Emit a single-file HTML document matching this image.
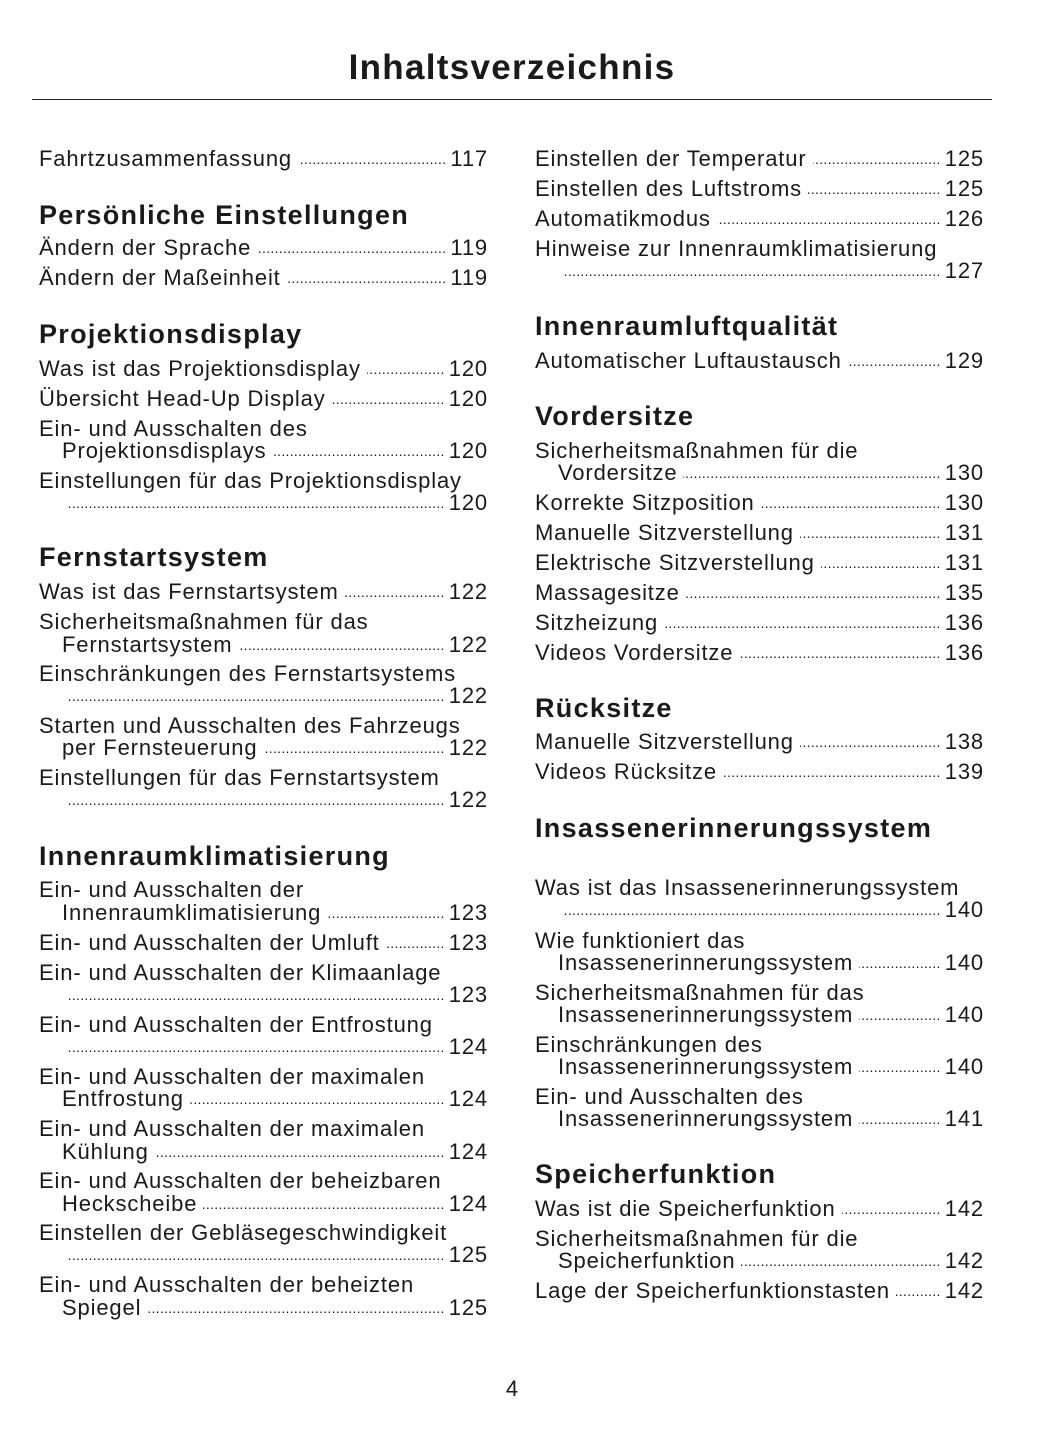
<!DOCTYPE html>
<html><head><meta charset="utf-8"><style>
html,body{margin:0;padding:0;background:#fff}
body{width:1055px;height:1448px;position:relative;overflow:hidden;font-family:"Liberation Sans",sans-serif;color:#1a1a1a}
.title{position:absolute;top:45px;left:0;width:1024px;text-align:center;font-weight:900;font-size:35px;letter-spacing:1.3px;line-height:46px}
.rule{position:absolute;top:99px;left:32px;width:960px;height:1px;background:#222}
.l{position:absolute;height:26px;line-height:26px;font-size:22px;letter-spacing:0.85px;display:flex;white-space:nowrap;width:449px}
.L{left:39px}.R{left:535px}
.i{padding-left:23px;box-sizing:border-box}
.d{flex:1;overflow:hidden;font-size:14px;letter-spacing:0.3px;margin:0 4px 0 6px;direction:rtl;text-align:left}
.h{position:absolute;font-weight:900;font-size:27px;letter-spacing:1.3px;line-height:30px;white-space:nowrap}
.pn{position:absolute;top:1376px;left:0;width:1024px;text-align:center;font-size:22px}
</style></head><body>
<div class="title">Inhaltsverzeichnis</div>
<div class="rule"></div>
<!-- left column -->
<div class="l L" style="top:146px"><span>Fahrtzusammenfassung</span><span class="d">................................................................................................................</span><span>117</span></div>
<div class="h" style="left:39px;top:200px">Persönliche Einstellungen</div>
<div class="l L" style="top:235px"><span>Ändern der Sprache</span><span class="d">................................................................................................................</span><span>119</span></div>
<div class="l L" style="top:265px"><span>Ändern der Maßeinheit</span><span class="d">................................................................................................................</span><span>119</span></div>
<div class="h" style="left:39px;top:319px">Projektionsdisplay</div>
<div class="l L" style="top:356px"><span>Was ist das Projektionsdisplay</span><span class="d">................................................................................................................</span><span>120</span></div>
<div class="l L" style="top:386px"><span>Übersicht Head-Up Display</span><span class="d">................................................................................................................</span><span>120</span></div>
<div class="l L" style="top:416px"><span>Ein- und Ausschalten des</span></div>
<div class="l L i" style="top:438px"><span>Projektionsdisplays</span><span class="d">................................................................................................................</span><span>120</span></div>
<div class="l L" style="top:468px"><span>Einstellungen für das Projektionsdisplay</span></div>
<div class="l L i" style="top:490px"><span></span><span class="d">................................................................................................................</span><span>120</span></div>
<div class="h" style="left:39px;top:542px">Fernstartsystem</div>
<div class="l L" style="top:579px"><span>Was ist das Fernstartsystem</span><span class="d">................................................................................................................</span><span>122</span></div>
<div class="l L" style="top:609px"><span>Sicherheitsmaßnahmen für das</span></div>
<div class="l L i" style="top:632px"><span>Fernstartsystem</span><span class="d">................................................................................................................</span><span>122</span></div>
<div class="l L" style="top:661px"><span>Einschränkungen des Fernstartsystems</span></div>
<div class="l L i" style="top:683px"><span></span><span class="d">................................................................................................................</span><span>122</span></div>
<div class="l L" style="top:713px"><span>Starten und Ausschalten des Fahrzeugs</span></div>
<div class="l L i" style="top:735px"><span>per Fernsteuerung</span><span class="d">................................................................................................................</span><span>122</span></div>
<div class="l L" style="top:765px"><span>Einstellungen für das Fernstartsystem</span></div>
<div class="l L i" style="top:787px"><span></span><span class="d">................................................................................................................</span><span>122</span></div>
<div class="h" style="left:39px;top:841px">Innenraumklimatisierung</div>
<div class="l L" style="top:877px"><span>Ein- und Ausschalten der</span></div>
<div class="l L i" style="top:900px"><span>Innenraumklimatisierung</span><span class="d">................................................................................................................</span><span>123</span></div>
<div class="l L" style="top:930px"><span>Ein- und Ausschalten der Umluft</span><span class="d">................................................................................................................</span><span>123</span></div>
<div class="l L" style="top:960px"><span>Ein- und Ausschalten der Klimaanlage</span></div>
<div class="l L i" style="top:982px"><span></span><span class="d">................................................................................................................</span><span>123</span></div>
<div class="l L" style="top:1012px"><span>Ein- und Ausschalten der Entfrostung</span></div>
<div class="l L i" style="top:1034px"><span></span><span class="d">................................................................................................................</span><span>124</span></div>
<div class="l L" style="top:1064px"><span>Ein- und Ausschalten der maximalen</span></div>
<div class="l L i" style="top:1086px"><span>Entfrostung</span><span class="d">................................................................................................................</span><span>124</span></div>
<div class="l L" style="top:1116px"><span>Ein- und Ausschalten der maximalen</span></div>
<div class="l L i" style="top:1139px"><span>Kühlung</span><span class="d">................................................................................................................</span><span>124</span></div>
<div class="l L" style="top:1168px"><span>Ein- und Ausschalten der beheizbaren</span></div>
<div class="l L i" style="top:1191px"><span>Heckscheibe</span><span class="d">................................................................................................................</span><span>124</span></div>
<div class="l L" style="top:1220px"><span>Einstellen der Gebläsegeschwindigkeit</span></div>
<div class="l L i" style="top:1242px"><span></span><span class="d">................................................................................................................</span><span>125</span></div>
<div class="l L" style="top:1272px"><span>Ein- und Ausschalten der beheizten</span></div>
<div class="l L i" style="top:1295px"><span>Spiegel</span><span class="d">................................................................................................................</span><span>125</span></div>
<!-- right column -->
<div class="l R" style="top:146px"><span>Einstellen der Temperatur</span><span class="d">................................................................................................................</span><span>125</span></div>
<div class="l R" style="top:176px"><span>Einstellen des Luftstroms</span><span class="d">................................................................................................................</span><span>125</span></div>
<div class="l R" style="top:206px"><span>Automatikmodus</span><span class="d">................................................................................................................</span><span>126</span></div>
<div class="l R" style="top:236px"><span>Hinweise zur Innenraumklimatisierung</span></div>
<div class="l R i" style="top:258px"><span></span><span class="d">................................................................................................................</span><span>127</span></div>
<div class="h" style="left:535px;top:311px">Innenraumluftqualität</div>
<div class="l R" style="top:348px"><span>Automatischer Luftaustausch</span><span class="d">................................................................................................................</span><span>129</span></div>
<div class="h" style="left:535px;top:401px">Vordersitze</div>
<div class="l R" style="top:438px"><span>Sicherheitsmaßnahmen für die</span></div>
<div class="l R i" style="top:460px"><span>Vordersitze</span><span class="d">................................................................................................................</span><span>130</span></div>
<div class="l R" style="top:490px"><span>Korrekte Sitzposition</span><span class="d">................................................................................................................</span><span>130</span></div>
<div class="l R" style="top:520px"><span>Manuelle Sitzverstellung</span><span class="d">................................................................................................................</span><span>131</span></div>
<div class="l R" style="top:550px"><span>Elektrische Sitzverstellung</span><span class="d">................................................................................................................</span><span>131</span></div>
<div class="l R" style="top:580px"><span>Massagesitze</span><span class="d">................................................................................................................</span><span>135</span></div>
<div class="l R" style="top:610px"><span>Sitzheizung</span><span class="d">................................................................................................................</span><span>136</span></div>
<div class="l R" style="top:640px"><span>Videos Vordersitze</span><span class="d">................................................................................................................</span><span>136</span></div>
<div class="h" style="left:535px;top:693px">Rücksitze</div>
<div class="l R" style="top:729px"><span>Manuelle Sitzverstellung</span><span class="d">................................................................................................................</span><span>138</span></div>
<div class="l R" style="top:759px"><span>Videos Rücksitze</span><span class="d">................................................................................................................</span><span>139</span></div>
<div class="h" style="left:535px;top:813px">Insassenerinnerungssystem</div>
<div class="l R" style="top:875px"><span>Was ist das Insassenerinnerungssystem</span></div>
<div class="l R i" style="top:897px"><span></span><span class="d">................................................................................................................</span><span>140</span></div>
<div class="l R" style="top:928px"><span>Wie funktioniert das</span></div>
<div class="l R i" style="top:950px"><span>Insassenerinnerungssystem</span><span class="d">................................................................................................................</span><span>140</span></div>
<div class="l R" style="top:980px"><span>Sicherheitsmaßnahmen für das</span></div>
<div class="l R i" style="top:1002px"><span>Insassenerinnerungssystem</span><span class="d">................................................................................................................</span><span>140</span></div>
<div class="l R" style="top:1032px"><span>Einschränkungen des</span></div>
<div class="l R i" style="top:1054px"><span>Insassenerinnerungssystem</span><span class="d">................................................................................................................</span><span>140</span></div>
<div class="l R" style="top:1084px"><span>Ein- und Ausschalten des</span></div>
<div class="l R i" style="top:1106px"><span>Insassenerinnerungssystem</span><span class="d">................................................................................................................</span><span>141</span></div>
<div class="h" style="left:535px;top:1159px">Speicherfunktion</div>
<div class="l R" style="top:1196px"><span>Was ist die Speicherfunktion</span><span class="d">................................................................................................................</span><span>142</span></div>
<div class="l R" style="top:1226px"><span>Sicherheitsmaßnahmen für die</span></div>
<div class="l R i" style="top:1248px"><span>Speicherfunktion</span><span class="d">................................................................................................................</span><span>142</span></div>
<div class="l R" style="top:1278px"><span>Lage der Speicherfunktionstasten</span><span class="d">................................................................................................................</span><span>142</span></div>
<div class="pn">4</div>
</body></html>
